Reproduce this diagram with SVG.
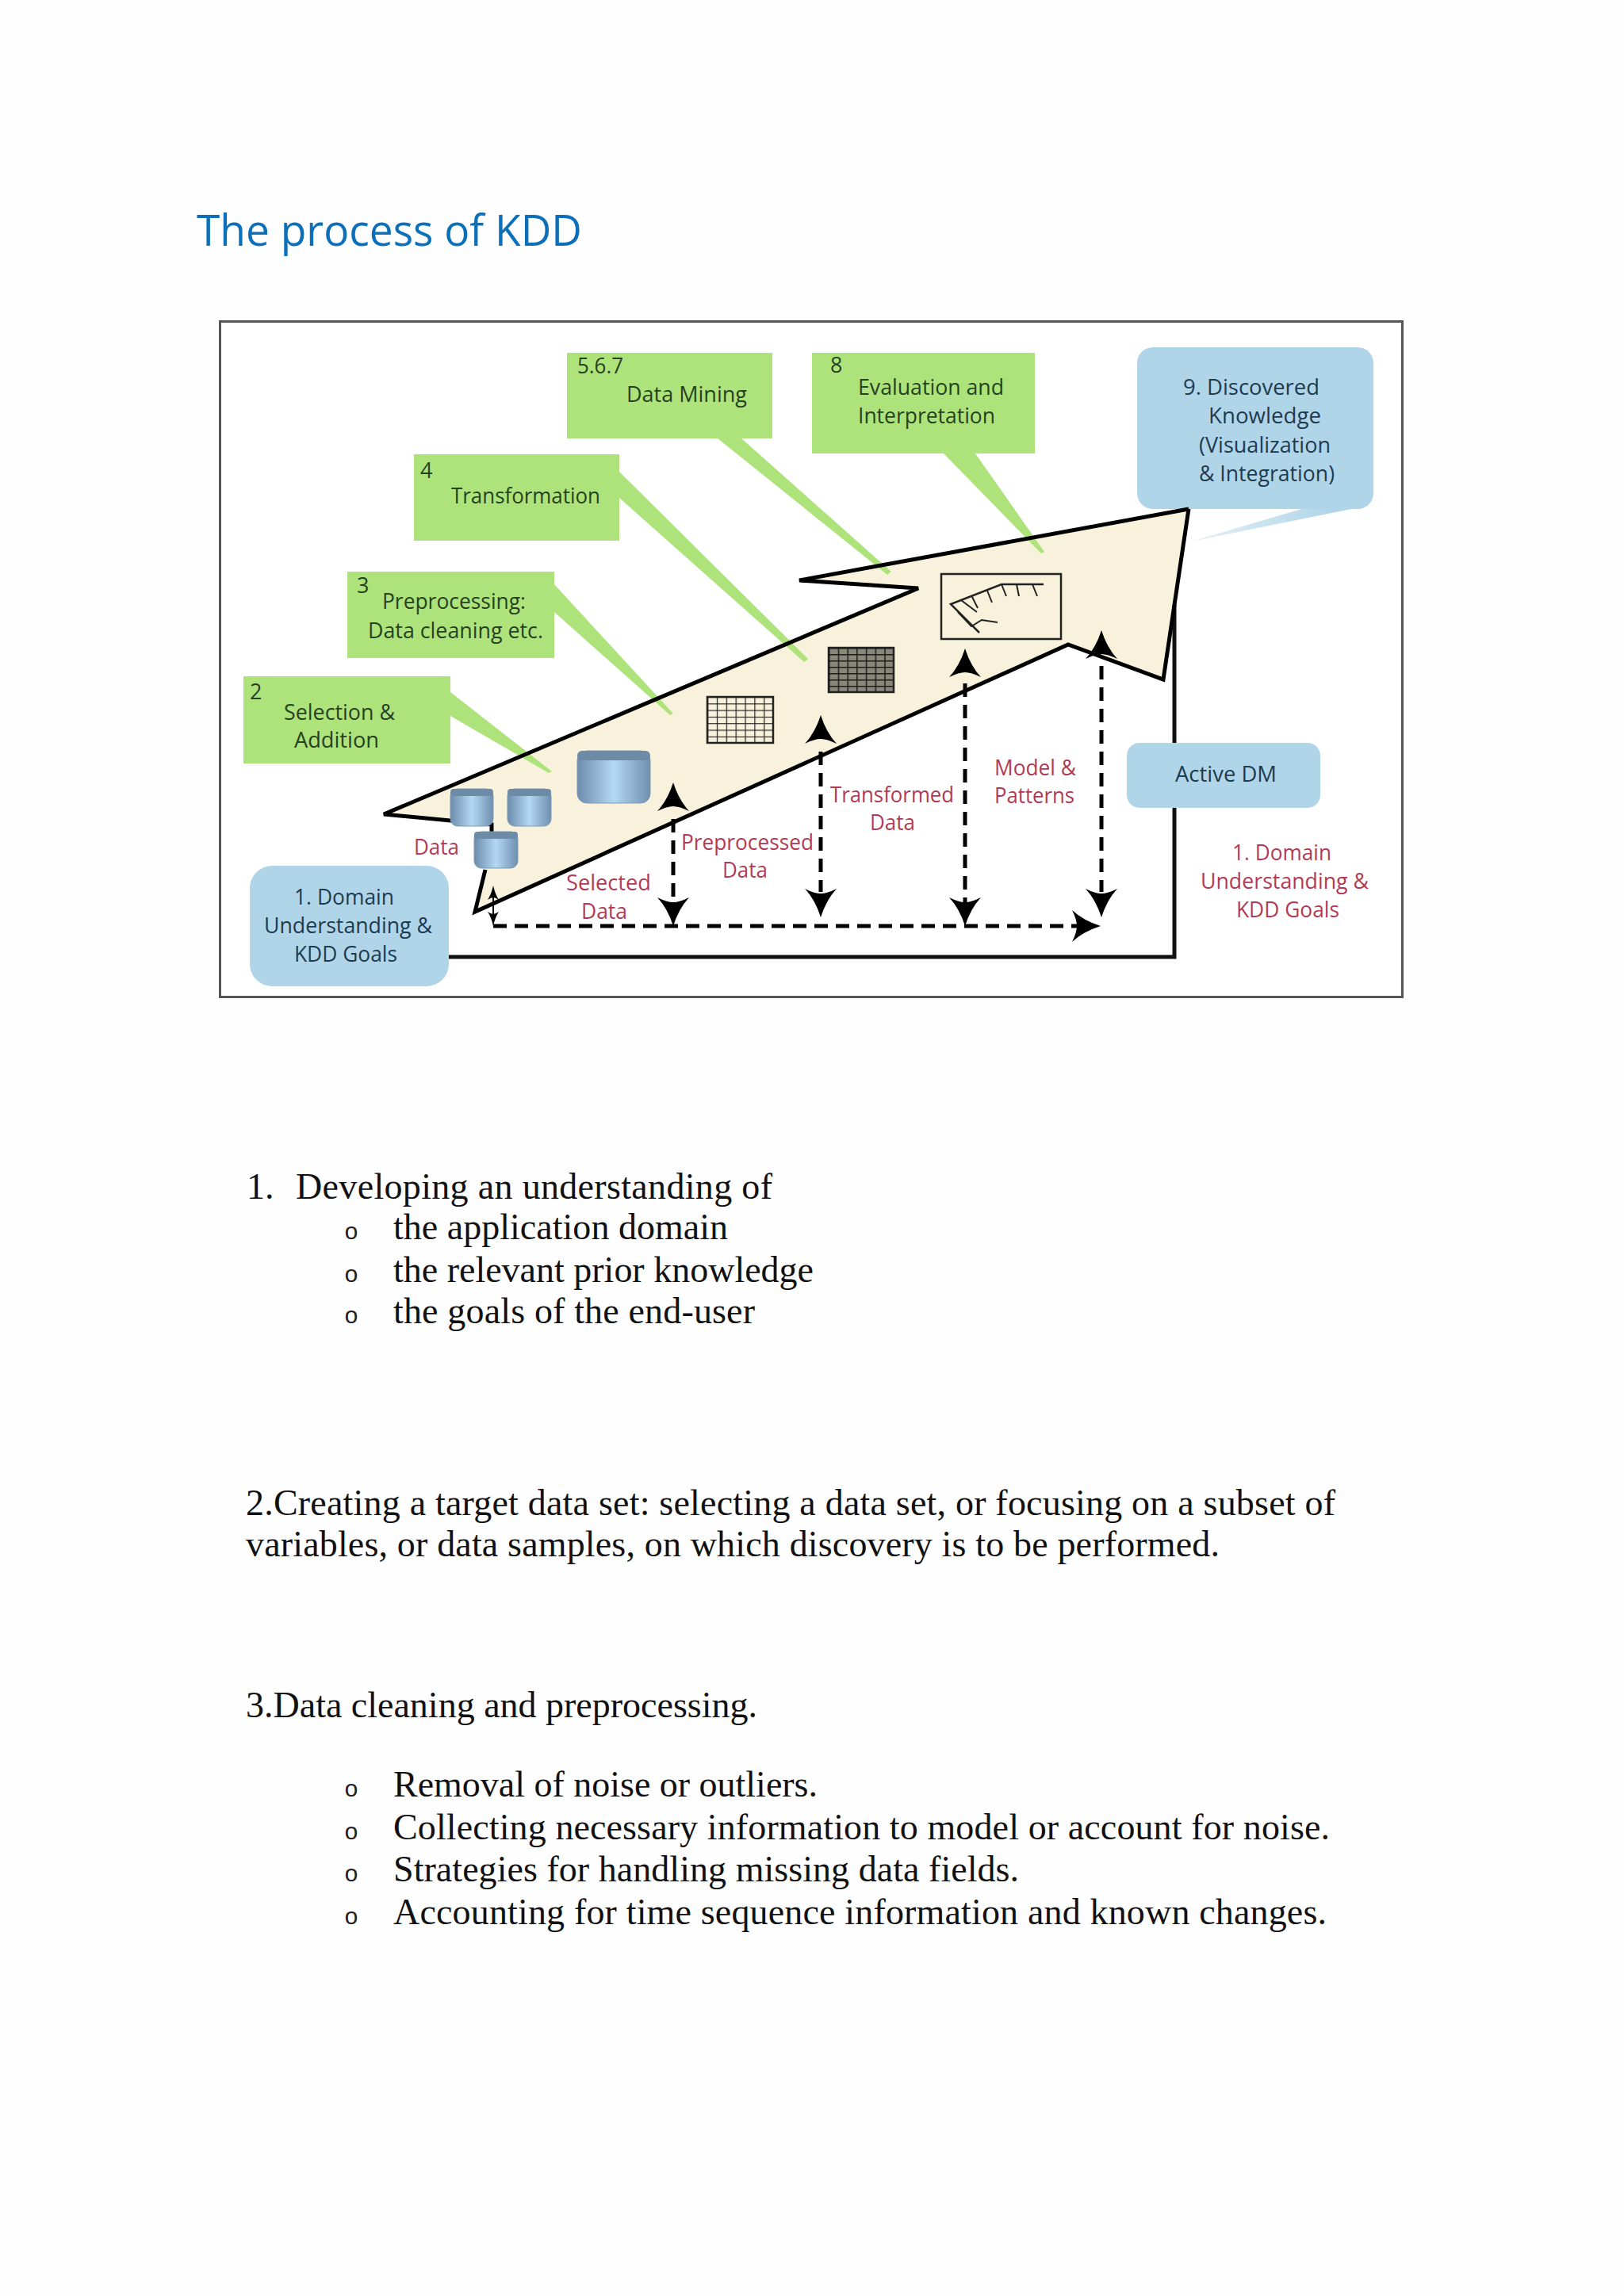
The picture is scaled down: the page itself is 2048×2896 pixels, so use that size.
<svg xmlns="http://www.w3.org/2000/svg" width="2048" height="2896" viewBox="0 0 2048 2896">
<style>
.lb{font-family:"Open Sans","Noto Sans",sans-serif;font-size:27px}
.g{fill:#25421f}.b{fill:#1d3b50}.r{fill:#b23a55}
.gb{fill:#aee37c}.bb{fill:#b1d5e8}
.body{font-family:"Liberation Serif",serif;font-size:46px;fill:#111}
.o{font-family:"Liberation Mono",monospace;font-size:30px;fill:#222}
.dash{stroke:#000;stroke-width:5;stroke-dasharray:17 10;fill:none}
.ln{stroke:#111;fill:none}
</style>
<defs>
<path id="ah" d="M0 0Q7 22 20 36Q8 30 0 30Q-8 30-20 36Q-7 22 0 0Z" fill="#000"/>
<linearGradient id="cyl" x1="0" x2="1" y1="0" y2="0"><stop offset="0" stop-color="#6c8cab"/><stop offset=".5" stop-color="#b4d8f3"/><stop offset="1" stop-color="#6f8fae"/></linearGradient>
<linearGradient id="paleTail" gradientUnits="userSpaceOnUse" x1="1680" y1="642" x2="1502" y2="683"><stop offset="0" stop-color="#b1d5e8"/><stop offset="1" stop-color="#e6f1f7"/></linearGradient>
<pattern id="gridA" width="11.86" height="8.3" patternUnits="userSpaceOnUse" x="892" y="879"><rect width="11.86" height="8.3" fill="#f8f2dc"/><path d="M0 0H11.86M0 0V8.3" stroke="#222" stroke-width="2.4"/></pattern>
<pattern id="gridB" width="11.7" height="8" patternUnits="userSpaceOnUse" x="1045" y="817"><rect width="11.7" height="8" fill="#8a8679"/><path d="M0 0H11.7M0 0V8" stroke="#1c1c1c" stroke-width="3"/></pattern>
</defs>
<rect width="2048" height="2896" fill="#fefefe"/>
<text id="title" x="248" y="310" font-family="Open Sans,sans-serif" font-size="54" fill="#0b70b9" textLength="486" lengthAdjust="spacingAndGlyphs">The process of KDD</text>
<rect id="frame" x="277.500" y="405.500" width="1491" height="852" fill="#fff" stroke="#555" stroke-width="3"/>
<g id="node-knowledge"><path fill="url(#paleTail)" d="M1714 640L1502 683L1648 640Z"/><rect class="bb" x="1434" y="438" width="298" height="204" rx="20"/><text class="lb b" x="1492" y="498" textLength="172" lengthAdjust="spacingAndGlyphs">9. Discovered</text><text class="lb b" x="1524" y="534" textLength="142" lengthAdjust="spacingAndGlyphs">Knowledge</text><text class="lb b" x="1512" y="571" textLength="166" lengthAdjust="spacingAndGlyphs">(Visualization</text><text class="lb b" x="1512" y="607" textLength="171" lengthAdjust="spacingAndGlyphs">&amp; Integration)</text></g>
<polygon id="process-arrow" points="1499,642 1008,732 1158,742 484,1027 620,1040 612,1097 599,1150 1347,813 1467,857" fill="#f8f2dc"/>
<g id="connectors">
<path class="ln" stroke-width="5" d="M566 1207H1481V763"/>
<path class="dash" d="M622 1168H1362"/>
<use href="#ah" transform="translate(1388 1168) rotate(90)"/>
<path class="dash" d="M849 1033V1140"/><use href="#ah" transform="translate(849 987)"/><use href="#ah" transform="translate(849 1168) rotate(180)"/>
<path class="dash" d="M1035 948V1125"/><use href="#ah" transform="translate(1035 902)"/><use href="#ah" transform="translate(1035 1157) rotate(180)"/>
<path class="dash" d="M1217 862V1140"/><use href="#ah" transform="translate(1217 818)"/><use href="#ah" transform="translate(1217 1168) rotate(180)"/>
<path class="dash" d="M1389 840V1125"/><use href="#ah" transform="translate(1389 795)"/><use href="#ah" transform="translate(1389 1157) rotate(180)"/>
<path class="ln" stroke-width="2" d="M622 1125V1160"/><use href="#ah" transform="translate(622 1117) scale(.35 .5)"/><use href="#ah" transform="translate(622 1168) rotate(180) scale(.35 .5)"/>
</g>
<g id="node-selection"><path class="gb" d="M307 853H568V873L696 973L692 975L568 903V963H307Z"/><text class="lb g" x="315" y="882">2</text><text class="lb g" x="358" y="908" textLength="140" lengthAdjust="spacingAndGlyphs">Selection &amp;</text><text class="lb g" x="371" y="943" textLength="107" lengthAdjust="spacingAndGlyphs">Addition</text></g>
<g id="node-preprocessing"><path class="gb" d="M438 721H699V737L849 900L845 902L699 772V830H438Z"/><text class="lb g" x="450" y="748">3</text><text class="lb g" x="482" y="768" textLength="181" lengthAdjust="spacingAndGlyphs">Preprocessing:</text><text class="lb g" x="464" y="805" textLength="221" lengthAdjust="spacingAndGlyphs">Data cleaning etc.</text></g>
<g id="node-transformation"><path class="gb" d="M522 573H781V595L1019 831L1014 835L781 628V682H522Z"/><text class="lb g" x="530" y="603">4</text><text class="lb g" x="569" y="635" textLength="188" lengthAdjust="spacingAndGlyphs">Transformation</text></g>
<g id="node-data-mining"><path class="gb" d="M715 445H974V553H935L1124 721L1119 725L905 553H715Z"/><text class="lb g" x="728" y="471" textLength="58" lengthAdjust="spacingAndGlyphs">5.6.7</text><text class="lb g" x="790" y="507" textLength="152" lengthAdjust="spacingAndGlyphs">Data Mining</text></g>
<g id="node-evaluation"><path class="gb" d="M1024 445H1305V572H1230L1317 696L1313 698L1190 572H1024Z"/><text class="lb g" x="1047" y="470">8</text><text class="lb g" x="1082" y="498" textLength="184" lengthAdjust="spacingAndGlyphs">Evaluation and</text><text class="lb g" x="1082" y="534" textLength="173" lengthAdjust="spacingAndGlyphs">Interpretation</text></g>
<path id="process-arrow-outline" d="M1499 642L1008 732L1158 742L484 1027L620 1040V1050M612 1097L599 1150L1347 813L1467 857L1499 642" fill="none" stroke="#000" stroke-width="5" stroke-linejoin="miter"/>
<g id="node-data-cylinders">
<g fill="url(#cyl)" stroke="#7f9ab2" stroke-width="1">
<rect x="568" y="995" width="54" height="47" rx="9"/><rect x="640" y="995" width="55" height="47" rx="9"/><rect x="598" y="1049" width="55" height="46" rx="9"/><rect x="728" y="947" width="92" height="66" rx="12"/></g>
<g fill="#6d8aa6"><rect x="568" y="995" width="54" height="9" rx="4"/><rect x="640" y="995" width="55" height="9" rx="4"/><rect x="598" y="1049" width="55" height="9" rx="4"/><rect x="728" y="947" width="92" height="12" rx="6"/></g>
</g>
<rect id="grid-preprocessed" x="892" y="879" width="83" height="58" fill="url(#gridA)" stroke="#222" stroke-width="2.500"/>
<rect id="grid-transformed" x="1045" y="817" width="82" height="56" fill="url(#gridB)" stroke="#222" stroke-width="2.500"/>
<g id="node-chart" fill="none" stroke="#222">
<rect x="1187" y="724" width="151" height="82" stroke-width="2.500"/>
<path stroke-width="2.500" d="M1316 737H1263L1199 762L1235 798"/>
<path stroke-width="2" d="M1263 737L1269 752M1282 737L1285 752M1302 737L1308 752M1245 745L1251 760M1225 751L1233 767M1212 757L1232 772M1208 772L1225 790L1238 782L1258 785"/>
</g>
<g id="node-domain"><rect class="bb" x="315" y="1092" width="251" height="152" rx="28"/><text class="lb b" x="371" y="1141" textLength="126" lengthAdjust="spacingAndGlyphs">1. Domain</text><text class="lb b" x="333" y="1177" textLength="212" lengthAdjust="spacingAndGlyphs">Understanding &amp;</text><text class="lb b" x="371" y="1213" textLength="130" lengthAdjust="spacingAndGlyphs">KDD Goals</text></g>
<g id="node-active-dm"><rect class="bb" x="1421" y="937" width="244" height="82" rx="16"/><text class="lb b" x="1482" y="986" textLength="128" lengthAdjust="spacingAndGlyphs">Active DM</text></g>
<g id="labels">
<text class="lb r" x="522" y="1078" textLength="57" lengthAdjust="spacingAndGlyphs">Data</text>
<text class="lb r" x="714" y="1123" textLength="107" lengthAdjust="spacingAndGlyphs">Selected</text><text class="lb r" x="733" y="1159" textLength="58" lengthAdjust="spacingAndGlyphs">Data</text>
<text class="lb r" x="859" y="1072" textLength="167" lengthAdjust="spacingAndGlyphs">Preprocessed</text><text class="lb r" x="911" y="1107" textLength="57" lengthAdjust="spacingAndGlyphs">Data</text>
<text class="lb r" x="1047" y="1012" textLength="156" lengthAdjust="spacingAndGlyphs">Transformed</text><text class="lb r" x="1097" y="1047" textLength="57" lengthAdjust="spacingAndGlyphs">Data</text>
<text class="lb r" x="1254" y="978" textLength="103" lengthAdjust="spacingAndGlyphs">Model &amp;</text><text class="lb r" x="1254" y="1013" textLength="101" lengthAdjust="spacingAndGlyphs">Patterns</text>
<text class="lb r" x="1554" y="1085" textLength="125" lengthAdjust="spacingAndGlyphs">1. Domain</text><text class="lb r" x="1514" y="1121" textLength="212" lengthAdjust="spacingAndGlyphs">Understanding &amp;</text><text class="lb r" x="1559" y="1157" textLength="130" lengthAdjust="spacingAndGlyphs">KDD Goals</text>
</g>
<g id="body-text">
<text class="body" x="311" y="1512">1.</text><text class="body" x="373" y="1512" textLength="601">Developing an understanding of</text>
<text class="o" x="434" y="1563">o</text><text class="body" x="496" y="1563" textLength="422">the application domain</text>
<text class="o" x="434" y="1617">o</text><text class="body" x="496" y="1617" textLength="530">the relevant prior knowledge</text>
<text class="o" x="434" y="1669">o</text><text class="body" x="496" y="1669" textLength="456">the goals of the end-user</text>
<text class="body" x="310" y="1911" textLength="1374">2.Creating a target data set: selecting a data set, or focusing on a subset of</text>
<text class="body" x="310" y="1963" textLength="1228">variables, or data samples, on which discovery is to be performed.</text>
<text class="body" x="310" y="2166" textLength="645">3.Data cleaning and preprocessing.</text>
<text class="o" x="434" y="2266">o</text><text class="body" x="496" y="2266" textLength="535">Removal of noise or outliers.</text>
<text class="o" x="434" y="2320">o</text><text class="body" x="496" y="2320" textLength="1181">Collecting necessary information to model or account for noise.</text>
<text class="o" x="434" y="2373">o</text><text class="body" x="496" y="2373" textLength="789">Strategies for handling missing data fields.</text>
<text class="o" x="434" y="2427">o</text><text class="body" x="496" y="2427" textLength="1177">Accounting for time sequence information and known changes.</text>
</g>
</svg>
